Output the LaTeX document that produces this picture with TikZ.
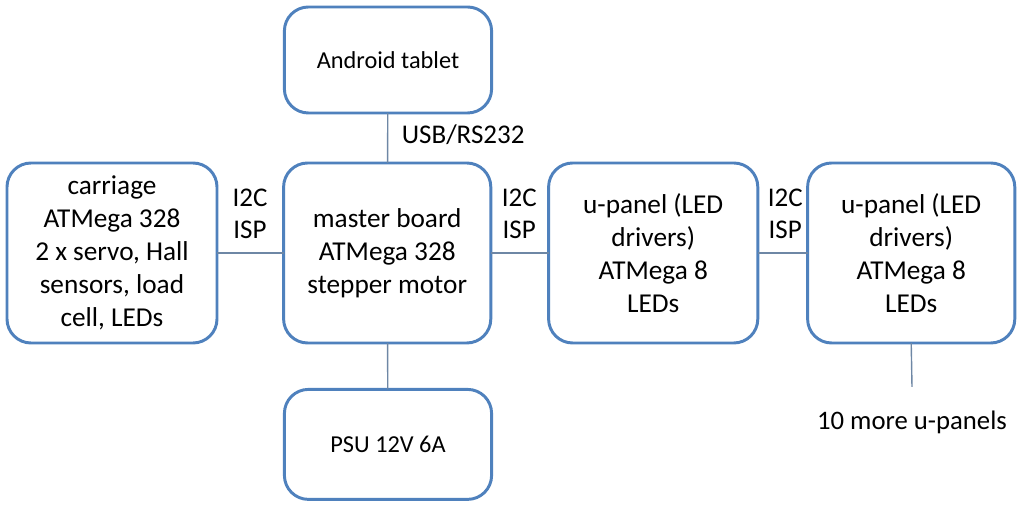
\documentclass[tikz,border=0pt]{standalone}
\usepackage{fontspec}
\setmainfont{Carlito}
\definecolor{boxblue}{RGB}{79,129,189}
\definecolor{wire}{RGB}{110,135,165}
\tikzset{block/.style={draw=boxblue,line width=2.1pt,rounded corners=0.6cm,fill=white,align=center,
  font=\fontsize{19.4}{23.5}\selectfont,minimum width=5.18cm,minimum height=4.5cm,outer sep=0pt}}
\tikzset{link/.style={draw=wire,line width=1pt}}
\tikzset{tag/.style={align=center,font=\fontsize{19.2}{23}\selectfont}}

\begin{document}
\begin{tikzpicture}
[small/.style={block,minimum height=2.65cm,font=\fontsize{17.3}{21}\selectfont}]
\useasboundingbox (0,0) rectangle (25.6,12.65);
\node (tablet) at (9.7,11.15)[small]{Android tablet};
\node (master) at (9.68,6.325)[block]{master board\\ATMega 328\\stepper motor};
\node (psu) at (9.7,1.54)[small,minimum height=2.75cm]{PSU 12V 6A};
\node (carriage) at (2.8,6.325)[block,minimum width=5.25cm]{carriage\\ATMega 328\\2 x servo, Hall\\sensors, load\\cell, LEDs};
\node (panela) at (16.33,6.325)[block,minimum width=5.23cm]{u-panel (LED\\drivers)\\ATMega 8\\LEDs};
\node (panelb) at (22.78,6.325)[block]{u-panel (LED\\drivers)\\ATMega 8\\LEDs};
\coordinate (more) at (22.8,2.98);
\node (moretext) at (22.8,2.1)[tag,font=\fontsize{19}{22}\selectfont]{10 more u-panels};

\draw[link] (tablet) -- (master);
\draw[link] (master) -- (psu);
\draw[link] (carriage) -- (master);
\draw[link] (master) -- (panela);
\draw[link] (panela) -- (panelb);
\draw[link] (panelb.south) -- (more);

\node (usb) at (11.58,9.28)[tag]{USB/RS232};
\node (buscarr) at (6.25,7.3)[tag]{I2C\\ISP};
\node (busa) at (12.98,7.3)[tag]{I2C\\ISP};
\node (busb) at (19.63,7.3)[tag]{I2C\\ISP};
\end{tikzpicture}
\end{document}
